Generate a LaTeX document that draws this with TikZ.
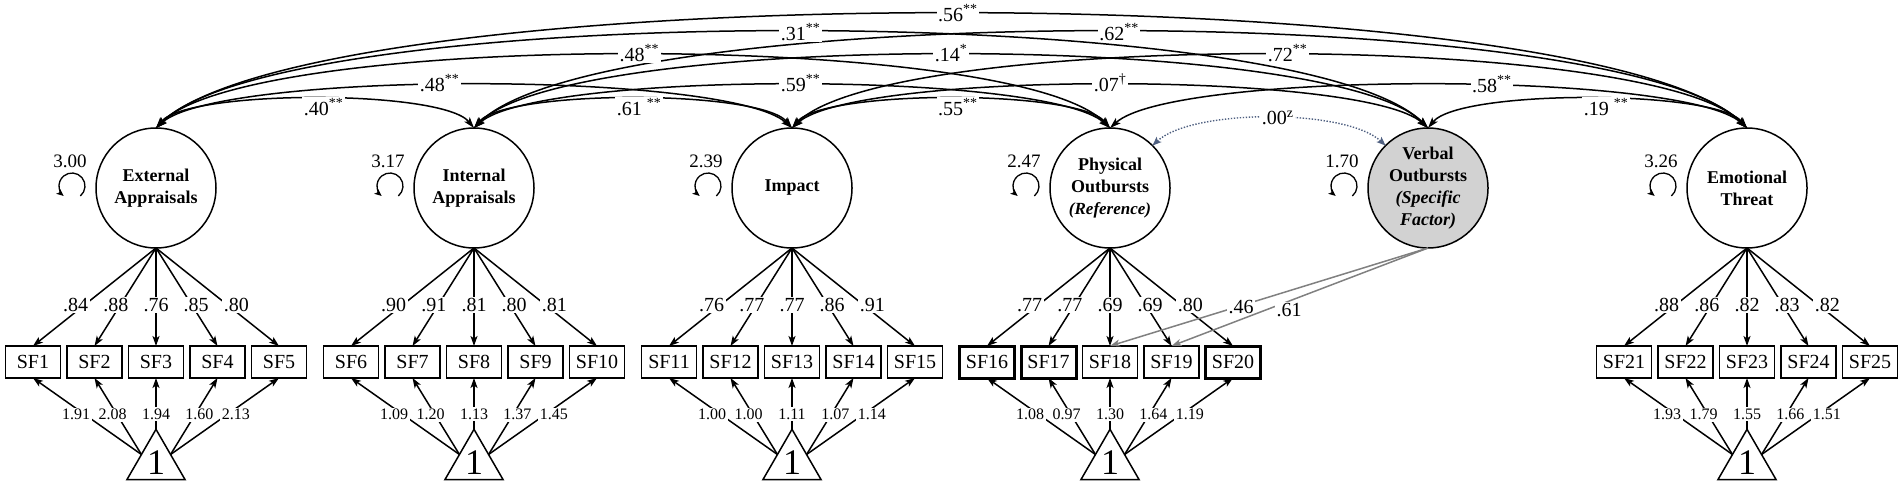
\documentclass[tikz,border=0pt]{standalone}
\usepackage{fontspec}
\setmainfont{Liberation Serif}
\usetikzlibrary{arrows.meta,shapes.geometric}
\definecolor{specgray}{RGB}{128,128,128}
\definecolor{dotblue}{RGB}{78,95,128}
\tikzset{
  lat/.style={circle, draw, line width=1.5pt, minimum size=120pt, inner sep=0pt, outer sep=0pt, align=center, font=\fontsize{18}{22}\selectfont\bfseries},
  ind/.style={draw, minimum width=55pt, minimum height=32pt, inner sep=0pt, outer sep=0pt, font=\fontsize{20}{24}\selectfont},
  tri/.style={regular polygon, regular polygon sides=3, draw, line width=1.5pt, minimum size=65.8pt, inner sep=0pt, outer sep=0pt, font=\fontsize{36}{40}\selectfont},
  arr/.style={-{Stealth[length=10pt,width=7pt,inset=2.5pt]}},
  load/.style={arr, line width=1.5pt},
  ilab/.style={fill=white, text=black, inner sep=1.5pt, font=\fontsize{16}{18}\selectfont},
  llab/.style={fill=white, text=black, inner sep=1.5pt, font=\fontsize{20}{24}\selectfont},
  clab/.style={fill=white, text=black, inner sep=1.5pt, font=\fontsize{20}{24}\selectfont},
  cov/.style={{Stealth[length=11pt,width=7pt,inset=2.5pt]}-{Stealth[length=11pt,width=7pt,inset=2.5pt]}, line width=1.5pt},
  dotcov/.style={{Stealth[length=9pt,width=7pt,inset=2pt]}-{Stealth[length=9pt,width=7pt,inset=2pt]}, line width=1.4pt, color=dotblue, dash pattern=on 1.4pt off 1.6pt},
  vlab/.style={font=\fontsize{19}{22}\selectfont, inner sep=0pt},
  vloop/.style={-{Stealth[length=7pt,width=6pt,inset=1.5pt]}, line width=1.3pt},
}
\newcommand\cvA[7]{\draw[cov] (#1.north) .. controls +(#3,#4) and +(-#3,#4) .. (#2.north);}
\newcommand\cvB[7]{\path (#1.north) .. controls +(#3,#4) and +(-#3,#4) .. (#2.north) node[clab,pos=#5,yshift=#6]{#7};}
\newcommand\cvlist[1]{%
 #1{E}{T}{159}{152}{.503}{1}{.56\textsuperscript{**}}%
 #1{E}{V}{127.2}{128}{.505}{0}{.31\textsuperscript{**}}%
 #1{I}{T}{127.2}{128}{.505}{0}{.62\textsuperscript{**}}%
 #1{E}{P}{95.4}{97.3}{.505}{2}{.48\textsuperscript{**}}%
 #1{I}{V}{95.4}{97.3}{.5}{2}{.14\textsuperscript{*}}%
 #1{M}{T}{95.4}{97.3}{.514}{2}{.72\textsuperscript{**}}%
 #1{E}{M}{63.6}{57.3}{.46}{2}{.48\textsuperscript{**}}%
 #1{I}{P}{63.6}{57.3}{.51}{2}{.59\textsuperscript{**}}%
 #1{M}{V}{63.6}{57.3}{.5}{2}{.07\textsuperscript{\textdagger}}%
 #1{P}{T}{63.6}{57.3}{.574}{2}{.58\textsuperscript{**}}%
 #1{E}{I}{31.8}{38.7}{.52}{-8}{.40\textsuperscript{**}}%
 #1{I}{M}{31.8}{38.7}{.514}{-8}{.61 \textsuperscript{**}}%
 #1{M}{P}{31.8}{38.7}{.516}{-8}{.55\textsuperscript{**}}%
 #1{V}{T}{31.8}{38.7}{.543}{-8}{.19 \textsuperscript{**}}%
}
\begin{document}
\begin{tikzpicture}[x=1pt,y=1pt]
\useasboundingbox (0,0) rectangle (1902,-486);

% latent factors
\node[lat] (E) at (156,-188) {External\\Appraisals};
\node[lat] (I) at (474,-188) {Internal\\Appraisals};
\node[lat] (M) at (792,-188) {Impact};
\node[lat] (P) at (1110,-188) {Physical\\Outbursts\\{\fontsize{17}{20}\selectfont\itshape (Reference)}};
\node[lat, fill=gray!35] (V) at (1428,-188) {Verbal\\Outbursts\\\textit{(Specific}\\\textit{Factor)}};
\node[lat] (T) at (1747,-188) {Emotional\\Threat};

% indicators
\foreach \cx/\s in {156/1,474/6,792/11,1110/16,1747/21}{
  \foreach \k in {0,...,4}{
    \pgfmathtruncatemacro\n{\s+\k}
    \pgfmathsetmacro\lw{(\n==16 || \n==17 || \n==20) ? 3 : 1.3}
    \node[ind, line width=\lw pt] (sf\n) at ({\cx+61.5*(\k-2)},-362) {SF\n};
  }
}

% intercept triangles
\foreach \g/\cx in {E/156,I/474,M/792,P/1110,T/1747}{
  \node[tri] (t\g) at (\cx,-462.9) {1};
}

% loadings and intercepts
\foreach \g/\s/\L/\N in {E/1/{.84,.88,.76,.85,.80}/{1.91,2.08,1.94,1.60,2.13},
                         I/6/{.90,.91,.81,.80,.81}/{1.09,1.20,1.13,1.37,1.45},
                         M/11/{.76,.77,.77,.86,.91}/{1.00,1.00,1.11,1.07,1.14},
                         P/16/{.77,.77,.69,.69,.80}/{1.08,0.97,1.30,1.64,1.19},
                         T/21/{.88,.86,.82,.83,.82}/{1.93,1.79,1.55,1.66,1.51}}{
  \foreach \l [count=\k from 0] in \L {
    \pgfmathtruncatemacro\n{\s+\k}
    \pgfmathsetmacro\xs{4.5*(\k-2)}
    \draw[load] (\g.south) -- (sf\n.north) node[llab, pos=.58, xshift=\xs]{\l};
  }
  \foreach \i [count=\k from 0] in \N {
    \pgfmathtruncatemacro\n{\s+\k}
    \pgfmathsetmacro\xs{4.5*(\k-2)}
    \pgfmathsetmacro\ps{(\k==2) ? 0.3 : 0.52}
    \edef\an{\ifcase\k side 1\or side 1\or corner 1\or side 3\or side 3\fi}
    \draw[load] (t\g.\an) -- (sf\n.south) node[ilab, pos=\ps, xshift=\xs]{\i};
  }
}

% specific factor loadings
\draw[load, color=specgray] (V.south) -- (sf18.north) node[llab, pos=.6, xshift=4]{.46};
\draw[load, color=specgray] (V.south) -- (sf19.north) node[llab, pos=.6, xshift=15, yshift=-3]{.61};

% variances
\foreach \g/\cx/\v in {E/156/3.00, I/474/3.17, M/792/2.39, P/1110/2.47, V/1428/1.70, T/1747/3.26}{
  \node[vlab] (var\g) at ({\cx-86},-161) {\v};
  \draw[vloop] ({\cx-84+8.36},{-186-9.96}) arc[start angle=-50, end angle=230, radius=13];
}

% covariances
\cvlist\cvA
\draw[dotcov] (P.45) .. controls +(40,37) and +(-40,37) .. (V.135);
\cvlist\cvB
\path (P.45) .. controls +(40,37) and +(-40,37) .. (V.135) node[clab, pos=.53]{.00\textsuperscript{z}};
\end{tikzpicture}
\end{document}
